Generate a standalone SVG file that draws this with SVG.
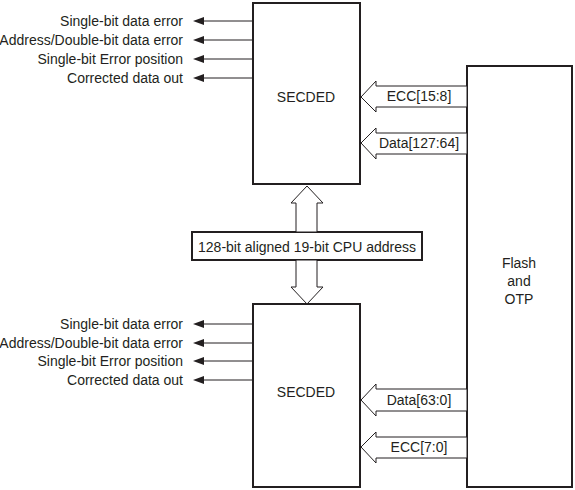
<svg xmlns="http://www.w3.org/2000/svg" width="575" height="490" viewBox="0 0 575 490">
<style>
text{font-family:"Liberation Sans",Arial,sans-serif;font-size:14px;fill:#231f20}
.box{fill:#fff;stroke:#231f20;stroke-width:2}
.hollow{fill:#fff;stroke:#231f20;stroke-width:1}
.sig{stroke:#231f20;stroke-width:1;fill:none;marker-end:url(#ah)}
</style>
<defs>
<marker id="ah" viewBox="0 0 11 8" refX="1" refY="4" markerWidth="11" markerHeight="8" markerUnits="userSpaceOnUse" orient="auto">
<polygon points="0,4 11,0 11,8" fill="#231f20" transform="rotate(180 5.5 4)"/>
</marker>
</defs>
<g id="secded-top">
<rect class="box" x="253" y="3" width="107" height="181"/>
<text x="306" y="102" text-anchor="middle">SECDED</text>
</g>
<g id="secded-bottom">
<rect class="box" x="253" y="304" width="107" height="183"/>
<text x="306" y="397" text-anchor="middle">SECDED</text>
</g>
<g id="flash">
<rect class="box" x="467" y="66" width="105" height="421"/>
<text x="519" y="268" text-anchor="middle">Flash</text>
<text x="519" y="286" text-anchor="middle">and</text>
<text x="519" y="304" text-anchor="middle">OTP</text>
</g>
<g id="cpu-address">
<rect class="box" x="192" y="232" width="230" height="28"/>
<text x="307" y="252" text-anchor="middle">128-bit aligned 19-bit CPU address</text>
</g>
<g id="connectors">
<polygon class="hollow" points="307,186 323,203 317,203 317,232 296,232 296,203 291,203"/>
<polygon class="hollow" points="296,260 317,260 317,287 323,287 307,304 291,287 296,287"/>
<polygon class="hollow" points="467,86 376,86 376,81 361,97 376,112 376,107 467,107"/>
<polygon class="hollow" points="467,133 376,133 376,128 361,143 376,159 376,154 467,154"/>
<polygon class="hollow" points="467,389 376,389 376,384 361,400 376,416 376,411 467,411"/>
<polygon class="hollow" points="467,437 376,437 376,432 361,447 376,463 376,458 467,458"/>
<line class="sig" x1="252" y1="21" x2="203" y2="21"/>
<line class="sig" x1="252" y1="40" x2="203" y2="40"/>
<line class="sig" x1="252" y1="59" x2="203" y2="59"/>
<line class="sig" x1="252" y1="78" x2="203" y2="78"/>
<line class="sig" x1="252" y1="324" x2="203" y2="324"/>
<line class="sig" x1="252" y1="343" x2="203" y2="343"/>
<line class="sig" x1="252" y1="361" x2="203" y2="361"/>
<line class="sig" x1="252" y1="380" x2="203" y2="380"/>
</g>
<g id="labels">
<text x="419" y="101" text-anchor="middle">ECC[15:8]</text>
<text x="419" y="148" text-anchor="middle">Data[127:64]</text>
<text x="419" y="405" text-anchor="middle">Data[63:0]</text>
<text x="419" y="452" text-anchor="middle">ECC[7:0]</text>
<text x="183" y="26" text-anchor="end">Single-bit data error</text>
<text x="183" y="45" text-anchor="end">Address/Double-bit data error</text>
<text x="183" y="64" text-anchor="end">Single-bit Error position</text>
<text x="183" y="83" text-anchor="end">Corrected data out</text>
<text x="183" y="329" text-anchor="end">Single-bit data error</text>
<text x="183" y="348" text-anchor="end">Address/Double-bit data error</text>
<text x="183" y="366" text-anchor="end">Single-bit Error position</text>
<text x="183" y="385" text-anchor="end">Corrected data out</text>
</g>
</svg>
